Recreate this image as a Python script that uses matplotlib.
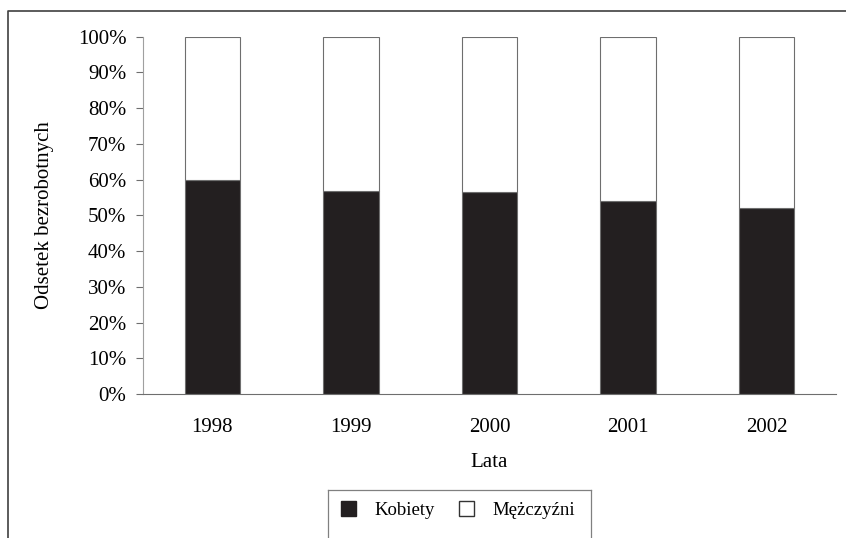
import numpy as np
import matplotlib.pyplot as plt
from matplotlib.lines import Line2D
from matplotlib.patches import Patch

plt.rcParams['font.family'] = ['Liberation Serif', 'DejaVu Serif']

lata = ['1998', '1999', '2000', '2001', '2002']
kobiety = [59.9, 56.9, 56.5, 54.1, 52.0]
mezczyzni = [100 - k for k in kobiety]

W, H = 846, 538
fig = plt.figure(figsize=(W / 100, H / 100), dpi=100)
ax = fig.add_axes([143 / W, 1 - 394 / H, (836 - 143) / W, (394 - 36.7) / H])

x = np.arange(len(lata))
czarny = '#231f20'
szary = '#6e6e6e'
ax.bar(x, kobiety, width=0.40, color=czarny, edgecolor=szary, linewidth=0.8)
ax.bar(x, mezczyzni, width=0.40, bottom=kobiety, color='white', edgecolor=szary, linewidth=0.8)

ax.set_xlim(-0.5, len(lata) - 0.5)
ax.set_ylim(0, 100)
ax.set_yticks(np.arange(0, 101, 10))
ax.set_yticklabels(['{}%'.format(v) for v in range(0, 101, 10)], fontsize=15)
ax.set_xticks(x)
ax.set_xticklabels(lata, fontsize=15)
ax.tick_params(axis='y', direction='out', length=5, width=0.8, color=szary, pad=7)
ax.tick_params(axis='x', length=0, pad=17)
for s in ['top', 'right']:
    ax.spines[s].set_visible(False)
ax.spines['left'].set_color('#a0a0a0')
ax.spines['bottom'].set_color(szary)

ax.set_ylabel('Odsetek bezrobotnych', fontsize=15, labelpad=17)
ax.set_xlabel('Lata', fontsize=15, labelpad=12)

uchwyty = [Patch(facecolor=czarny, edgecolor=czarny),
           Patch(facecolor='white', edgecolor='#333333', linewidth=1.0)]
fig.legend(uchwyty, ['Kobiety', 'Mężczyźni'], loc='center',
           bbox_to_anchor=(458 / W, 1 - 510 / H), ncol=2, frameon=False,
           fontsize=13.5, handlelength=0.8, handleheight=0.8,
           handletextpad=1.0, columnspacing=1.3)

# ramka legendy (dol ucięty)
lx0, lx1, ly0 = 327.7 / W, 590.7 / W, 1 - 490 / H
for xs, ys in [([lx0, lx0], [0, ly0]), ([lx0, lx1], [ly0, ly0]), ([lx1, lx1], [ly0, 0])]:
    fig.add_artist(Line2D(xs, ys, color='#808080', lw=0.9, transform=fig.transFigure))

# zewnętrzna ramka
fy = 1 - 10.7 / H
fig.add_artist(Line2D([8 / W, 8 / W, 1], [0, fy, fy], color='#404040', lw=1.2,
                      transform=fig.transFigure))

plt.savefig('out.png', dpi=100)
